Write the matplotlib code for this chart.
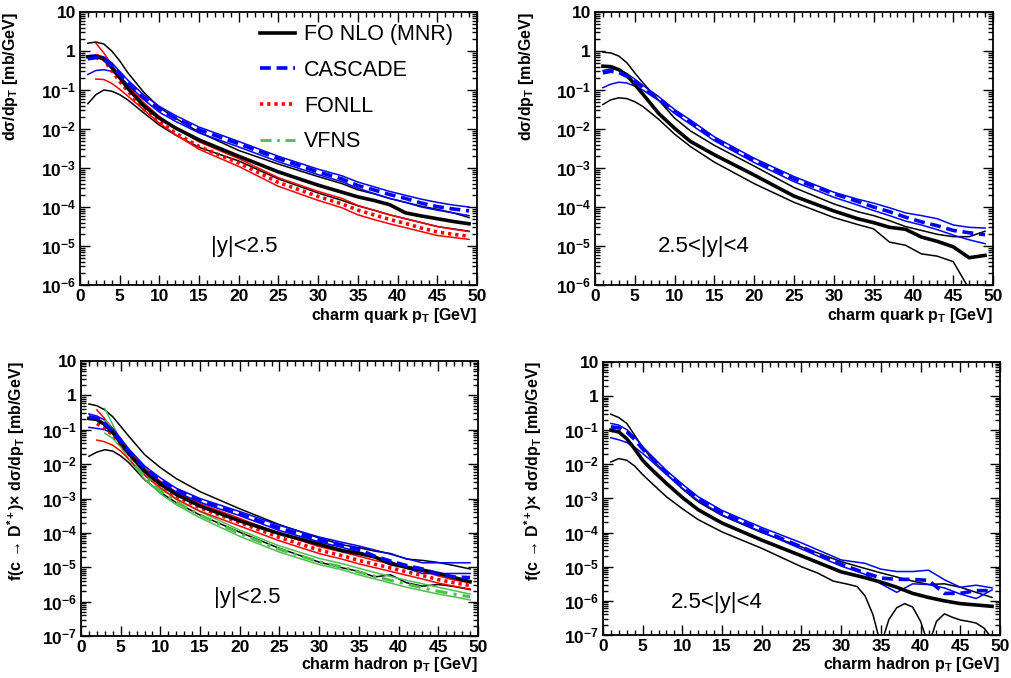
import numpy as np
import matplotlib
matplotlib.use("Agg")
import matplotlib.pyplot as plt
from matplotlib.lines import Line2D
from matplotlib.ticker import FixedLocator, MultipleLocator, FuncFormatter, NullFormatter

plt.rcParams['font.family'] = ['Liberation Sans', 'DejaVu Sans']
plt.rcParams['mathtext.fontset'] = 'custom'
plt.rcParams['mathtext.rm'] = 'Liberation Sans:bold'
plt.rcParams['mathtext.it'] = 'Liberation Sans:bold:italic'
plt.rcParams['mathtext.bf'] = 'Liberation Sans:bold'

# pT grid (GeV); all curve values below are log10 of the cross section [mb/GeV]
pt = [1, 2, 3, 4, 5, 6, 8, 10, 12, 15, 20, 25, 30, 33, 35, 37, 39, 41, 43, 45, 47, 49]
pt_fonll = pt[1:]
pt_vfns = pt[2:]

# --- charm quark, |y|<2.5 ---
tl_mnr = [-0.15, -0.14, -0.2, -0.42, -0.68, -0.95, -1.4, -1.72, -1.97, -2.28, -2.7, -3.1, -3.44, -3.62, -3.74, -3.83, -3.94, -4.15, -4.23, -4.3, -4.37, -4.43]
tl_mnr_hi = [0.2, 0.23, 0.18, 0.0, -0.25, -0.55, -1.05, -1.45, -1.72, -2.08, -2.55, -2.9, -3.22, -3.4, -3.56, -3.66, -3.78, -3.88, -3.98, -4.06, -4.15, -4.27]
tl_mnr_lo = [-1.35, -1.12, -1.0, -1.03, -1.12, -1.25, -1.58, -1.9, -2.15, -2.47, -2.82, -3.28, -3.64, -3.83, -3.97, -4.08, -4.2, -4.3, -4.4, -4.5, -4.56, -4.62]
tl_casc = [-0.2, -0.17, -0.22, -0.38, -0.6, -0.82, -1.2, -1.5, -1.72, -2.02, -2.38, -2.76, -3.1, -3.28, -3.45, -3.56, -3.68, -3.78, -3.9, -3.99, -4.05, -4.1]
tl_casc_hi = [-0.12, -0.1, -0.15, -0.3, -0.52, -0.74, -1.12, -1.42, -1.65, -1.95, -2.32, -2.7, -3.03, -3.2, -3.36, -3.48, -3.6, -3.7, -3.8, -3.88, -3.95, -4.0]
tl_casc_lo = [-0.6, -0.5, -0.48, -0.52, -0.66, -0.85, -1.24, -1.57, -1.8, -2.1, -2.46, -2.84, -3.17, -3.35, -3.52, -3.65, -3.78, -3.88, -4.0, -4.08, -4.15, -4.22]
tl_fonll = [-0.1, -0.22, -0.5, -0.78, -1.02, -1.48, -1.82, -2.1, -2.45, -2.87, -3.37, -3.73, -3.92, -4.08, -4.2, -4.32, -4.42, -4.54, -4.64, -4.7, -4.75]
tl_fonll_hi = [0.2, -0.05, -0.35, -0.62, -0.88, -1.32, -1.68, -1.97, -2.33, -2.76, -3.25, -3.6, -3.78, -3.96, -4.08, -4.2, -4.3, -4.4, -4.5, -4.57, -4.63]
tl_fonll_lo = [-0.72, -0.73, -0.83, -0.98, -1.15, -1.5, -1.85, -2.14, -2.52, -2.96, -3.47, -3.83, -4.02, -4.2, -4.32, -4.43, -4.53, -4.63, -4.73, -4.78, -4.83]

# --- charm quark, 2.5<|y|<4 ---
tr_mnr = [-0.39, -0.4, -0.48, -0.62, -0.86, -1.1, -1.6, -1.98, -2.32, -2.66, -3.18, -3.72, -4.1, -4.3, -4.4, -4.52, -4.57, -4.77, -4.88, -5.02, -5.3, -5.24]
tr_mnr_hi = [-0.03, -0.05, -0.13, -0.3, -0.56, -0.81, -1.26, -1.72, -2.05, -2.42, -2.95, -3.5, -3.92, -4.12, -4.22, -4.35, -4.5, -4.6, -4.7, -4.76, -4.76, -4.62]
tr_mnr_lo = [-1.37, -1.25, -1.2, -1.22, -1.3, -1.42, -1.75, -2.13, -2.45, -2.85, -3.4, -3.88, -4.27, -4.45, -4.56, -4.9, -4.98, -5.2, -5.26, -5.4, -6.1, -6.8]
tr_casc = [-0.56, -0.52, -0.55, -0.65, -0.78, -0.93, -1.22, -1.55, -1.82, -2.25, -2.8, -3.28, -3.66, -3.86, -4.0, -4.12, -4.26, -4.38, -4.48, -4.6, -4.66, -4.71]
tr_casc_hi = [-0.5, -0.46, -0.48, -0.58, -0.72, -0.88, -1.17, -1.5, -1.77, -2.2, -2.75, -3.22, -3.62, -3.8, -3.9, -4.02, -4.15, -4.22, -4.3, -4.46, -4.52, -4.54]
tr_casc_lo = [-0.94, -0.85, -0.8, -0.82, -0.9, -1.0, -1.27, -1.6, -1.88, -2.3, -2.86, -3.35, -3.75, -3.95, -4.09, -4.22, -4.36, -4.46, -4.58, -4.72, -4.84, -4.94]

# --- charm hadron, |y|<2.5 ---
bl_mnr = [-0.67, -0.7, -0.85, -1.08, -1.38, -1.68, -2.2, -2.58, -2.88, -3.22, -3.65, -4.02, -4.33, -4.52, -4.6, -4.7, -4.9, -5.0, -5.08, -5.18, -5.3, -5.42]
bl_mnr_hi = [-0.25, -0.3, -0.42, -0.62, -0.9, -1.18, -1.72, -2.1, -2.42, -2.8, -3.3, -3.76, -4.15, -4.35, -4.43, -4.53, -4.6, -4.76, -4.8, -4.86, -4.95, -5.05]
bl_mnr_lo = [-1.77, -1.65, -1.58, -1.62, -1.76, -1.95, -2.45, -2.82, -3.12, -3.48, -3.98, -4.45, -4.85, -5.02, -5.12, -5.28, -5.22, -5.45, -5.55, -5.5, -5.56, -5.65]
bl_casc = [-0.62, -0.67, -0.81, -1.05, -1.34, -1.63, -2.12, -2.47, -2.76, -3.06, -3.45, -3.86, -4.2, -4.36, -4.48, -4.68, -4.82, -4.95, -5.05, -5.2, -5.28, -5.3]
bl_casc_hi = [-0.54, -0.6, -0.72, -0.96, -1.25, -1.55, -2.05, -2.4, -2.7, -3.0, -3.38, -3.78, -4.12, -4.28, -4.38, -4.5, -4.62, -4.75, -4.87, -4.87, -4.87, -4.87]
bl_casc_lo = [-0.93, -0.96, -1.0, -1.1, -1.35, -1.68, -2.17, -2.52, -2.81, -3.11, -3.5, -3.93, -4.26, -4.43, -4.55, -4.7, -4.83, -5.03, -5.18, -5.18, -5.18, -5.18]
bl_fonll = [-0.82, -0.95, -1.15, -1.42, -1.7, -2.2, -2.6, -2.93, -3.27, -3.7, -4.13, -4.5, -4.67, -4.8, -4.91, -5.02, -5.13, -5.24, -5.36, -5.45, -5.53]
bl_fonll_hi = [-0.42, -0.68, -0.98, -1.3, -1.6, -2.1, -2.5, -2.82, -3.15, -3.58, -4.02, -4.4, -4.56, -4.68, -4.8, -4.9, -5.01, -5.12, -5.25, -5.37, -5.45]
bl_fonll_lo = [-1.3, -1.35, -1.45, -1.62, -1.85, -2.32, -2.7, -3.02, -3.37, -3.8, -4.23, -4.6, -4.77, -4.9, -5.01, -5.12, -5.23, -5.34, -5.46, -5.55, -5.63]
bl_vfns = [-0.72, -1.05, -1.4, -1.78, -2.36, -2.78, -3.1, -3.48, -4.02, -4.48, -4.84, -5.0, -5.14, -5.26, -5.38, -5.49, -5.6, -5.7, -5.78, -5.86]
bl_vfns_hi = [-0.38, -0.85, -1.3, -1.7, -2.28, -2.68, -3.0, -3.38, -3.92, -4.38, -4.74, -4.9, -5.03, -5.15, -5.27, -5.38, -5.48, -5.58, -5.68, -5.78]
bl_vfns_lo = [-1.1, -1.25, -1.5, -1.85, -2.43, -2.86, -3.18, -3.56, -4.1, -4.56, -4.92, -5.08, -5.22, -5.34, -5.46, -5.58, -5.68, -5.78, -5.86, -5.95]

# --- charm hadron, 2.5<|y|<4 ---
br_mnr = [-1.0, -1.05, -1.25, -1.55, -1.88, -2.12, -2.56, -2.97, -3.33, -3.72, -4.22, -4.68, -5.15, -5.32, -5.45, -5.6, -5.78, -5.9, -6.0, -6.08, -6.12, -6.16]
br_mnr_hi = [-0.53, -0.63, -0.8, -1.15, -1.5, -1.8, -2.28, -2.72, -3.1, -3.5, -4.0, -4.42, -4.85, -5.05, -5.18, -5.3, -5.42, -5.52, -5.5, -5.6, -5.75, -5.9]
br_lo_pt = [1, 2, 3, 4, 5, 6, 8, 10, 12, 15, 20, 25, 27, 29, 31, 32, 33, 34, 35, 36, 37, 38, 39, 40, 41, 42, 43, 44, 45, 46, 47, 48, 49]
br_mnr_lo = [-1.93, -1.83, -1.88, -2.05, -2.3, -2.52, -2.95, -3.3, -3.62, -3.98, -4.46, -5.0, -5.18, -5.42, -5.52, -5.58, -5.85, -6.4, -7.3, -6.55, -6.2, -6.08, -6.18, -6.6, -7.3, -6.6, -6.38, -6.48, -6.56, -6.6, -6.65, -6.8, -7.1]
br_casc = [-0.9, -0.93, -1.05, -1.27, -1.55, -1.78, -2.24, -2.64, -3.0, -3.42, -3.93, -4.42, -4.93, -5.18, -5.33, -5.37, -5.37, -5.4, -5.78, -5.78, -5.7, -5.7]
br_casc_hi = [-0.8, -0.85, -0.98, -1.2, -1.48, -1.72, -2.18, -2.58, -2.95, -3.35, -3.85, -4.3, -4.8, -4.9, -5.07, -5.14, -5.14, -5.1, -5.38, -5.6, -5.54, -5.62]
br_casc_lo = [-1.22, -1.28, -1.36, -1.5, -1.68, -1.88, -2.3, -2.7, -3.06, -3.48, -3.98, -4.48, -4.98, -5.22, -5.5, -5.75, -5.5, -5.52, -5.62, -5.8, -5.93, -5.68]

BLACK, BLUE, RED, GREEN = 'black', '#0000ff', '#ff0000', '#4cc04c'
LS_CASC = (0, (3.0, 1.6))
LS_FONLL = (0, (0.9, 1.1))
LS_VFNS = (0, (4.0, 2.0, 1.0, 2.0))


def curve(ax, x, v, **kw):
    ax.plot(x, 10.0 ** np.asarray(v), **kw)


def band(ax, x, hi, lo, color, xlo=None):
    curve(ax, x, hi, color=color, lw=1.1)
    curve(ax, x if xlo is None else xlo, lo, color=color, lw=1.1)


def tick_fmt(v, pos):
    e = int(round(np.log10(v)))
    if e == 0:
        return '1'
    if e == 1:
        return '10'
    return r'$\mathbf{10^{%d}}$' % e


def setup(ax, emin, xlabel, ylabel, ylab_x, xlab_y):
    ax.set_xlim(0, 50)
    ax.set_yscale('log')
    ax.set_ylim(10.0 ** emin, 10)
    decades = np.arange(emin, 2)
    minors = [m * 10.0 ** e for e in decades[:-1] for m in range(2, 10)]
    ax.xaxis.set_major_locator(MultipleLocator(5))
    ax.xaxis.set_minor_locator(MultipleLocator(1))
    ax.yaxis.set_major_locator(FixedLocator(10.0 ** decades))
    ax.yaxis.set_minor_locator(FixedLocator(minors))
    ax.yaxis.set_major_formatter(FuncFormatter(tick_fmt))
    ax.yaxis.set_minor_formatter(NullFormatter())
    ax.tick_params(which='both', direction='in', top=True, right=True, width=1.0)
    ax.tick_params(which='major', length=7, labelsize=12.5, pad=3)
    ax.tick_params(which='minor', length=3.5)
    for lab in ax.get_xticklabels() + ax.get_yticklabels():
        lab.set_fontweight('bold')
    for s in ax.spines.values():
        s.set_linewidth(1.3)
    ax.set_xlabel(xlabel, fontsize=11.5, fontweight='bold', loc='right')
    ax.xaxis.set_label_coords(1.0, xlab_y)
    ax.set_ylabel(ylabel, fontsize=11.5, fontweight='bold', loc='top')
    ax.yaxis.set_label_coords(ylab_x, 1.0)


fig = plt.figure(figsize=(10.11, 6.78), dpi=100)
ax_tl = fig.add_axes([0.0791, 0.5796, 0.3927, 0.4027])
ax_tr = fig.add_axes([0.5885, 0.5796, 0.3937, 0.4027])
ax_bl = fig.add_axes([0.0801, 0.0619, 0.3927, 0.4056])
ax_br = fig.add_axes([0.5964, 0.0634, 0.3927, 0.4027])

quark_y = r'dσ/dp$_{\mathrm{T}}$ [mb/GeV]'
hadron_y = r'f(c → D$^{*+}$)× dσ/dp$_{\mathrm{T}}$ [mb/GeV]'
quark_x = r'charm quark p$_{\mathrm{T}}$ [GeV]'
hadron_x = r'charm hadron p$_{\mathrm{T}}$ [GeV]'

# top left
ax = ax_tl
band(ax, pt, tl_mnr_hi, tl_mnr_lo, BLACK)
band(ax, pt_fonll, tl_fonll_hi, tl_fonll_lo, RED)
band(ax, pt, tl_casc_hi, tl_casc_lo, BLUE)
curve(ax, pt_fonll, tl_fonll, color=RED, lw=2.6, ls=LS_FONLL)
curve(ax, pt, tl_mnr, color=BLACK, lw=2.6)
curve(ax, pt, tl_casc, color=BLUE, lw=2.6, ls=LS_CASC)
setup(ax, -6, quark_x, quark_y, -0.151, -0.075)
ax.text(16.5, 1e-5, '|y|<2.5', fontsize=16, va='center')
handles = [Line2D([], [], color=BLACK, lw=2.6),
           Line2D([], [], color=BLUE, lw=2.6, ls=LS_CASC),
           Line2D([], [], color=RED, lw=2.6, ls=LS_FONLL),
           Line2D([], [], color=GREEN, lw=2.0, ls=LS_VFNS)]
ax.legend(handles, ['FO NLO (MNR)', 'CASCADE', 'FONLL', 'VFNS'], loc='upper left',
          bbox_to_anchor=(0.453, 0.955), frameon=False, fontsize=15.5,
          handlelength=1.65, handletextpad=0.4, labelspacing=0.68,
          borderpad=0, borderaxespad=0)

# top right
ax = ax_tr
band(ax, pt, tr_mnr_hi, tr_mnr_lo, BLACK)
band(ax, pt, tr_casc_hi, tr_casc_lo, BLUE)
curve(ax, pt, tr_mnr, color=BLACK, lw=2.6)
curve(ax, pt, tr_casc, color=BLUE, lw=2.6, ls=LS_CASC)
setup(ax, -6, quark_x, quark_y, -0.148, -0.075)
ax.text(7.9, 1e-5, '2.5<|y|<4', fontsize=16, va='center')

# bottom left
ax = ax_bl
band(ax, pt, bl_mnr_hi, bl_mnr_lo, BLACK)
band(ax, pt_vfns, bl_vfns_hi, bl_vfns_lo, GREEN)
band(ax, pt_fonll, bl_fonll_hi, bl_fonll_lo, RED)
band(ax, pt, bl_casc_hi, bl_casc_lo, BLUE)
curve(ax, pt_vfns, bl_vfns, color=GREEN, lw=2.2, ls=LS_VFNS)
curve(ax, pt_fonll, bl_fonll, color=RED, lw=2.6, ls=LS_FONLL)
curve(ax, pt, bl_mnr, color=BLACK, lw=2.6)
curve(ax, pt, bl_casc, color=BLUE, lw=2.6, ls=LS_CASC)
setup(ax, -7, hadron_x, hadron_y, -0.136, -0.068)
ax.text(16.7, 1.3e-6, '|y|<2.5', fontsize=16, va='center')

# bottom right
ax = ax_br
band(ax, pt, br_mnr_hi, br_mnr_lo, BLACK, xlo=br_lo_pt)
band(ax, pt, br_casc_hi, br_casc_lo, BLUE)
curve(ax, pt, br_mnr, color=BLACK, lw=2.6)
curve(ax, pt, br_casc, color=BLUE, lw=2.6, ls=LS_CASC)
setup(ax, -7, hadron_x, hadron_y, -0.149, -0.075)
ax.text(8.6, 9e-7, '2.5<|y|<4', fontsize=16, va='center')

fig.savefig('out.png', dpi=100)
